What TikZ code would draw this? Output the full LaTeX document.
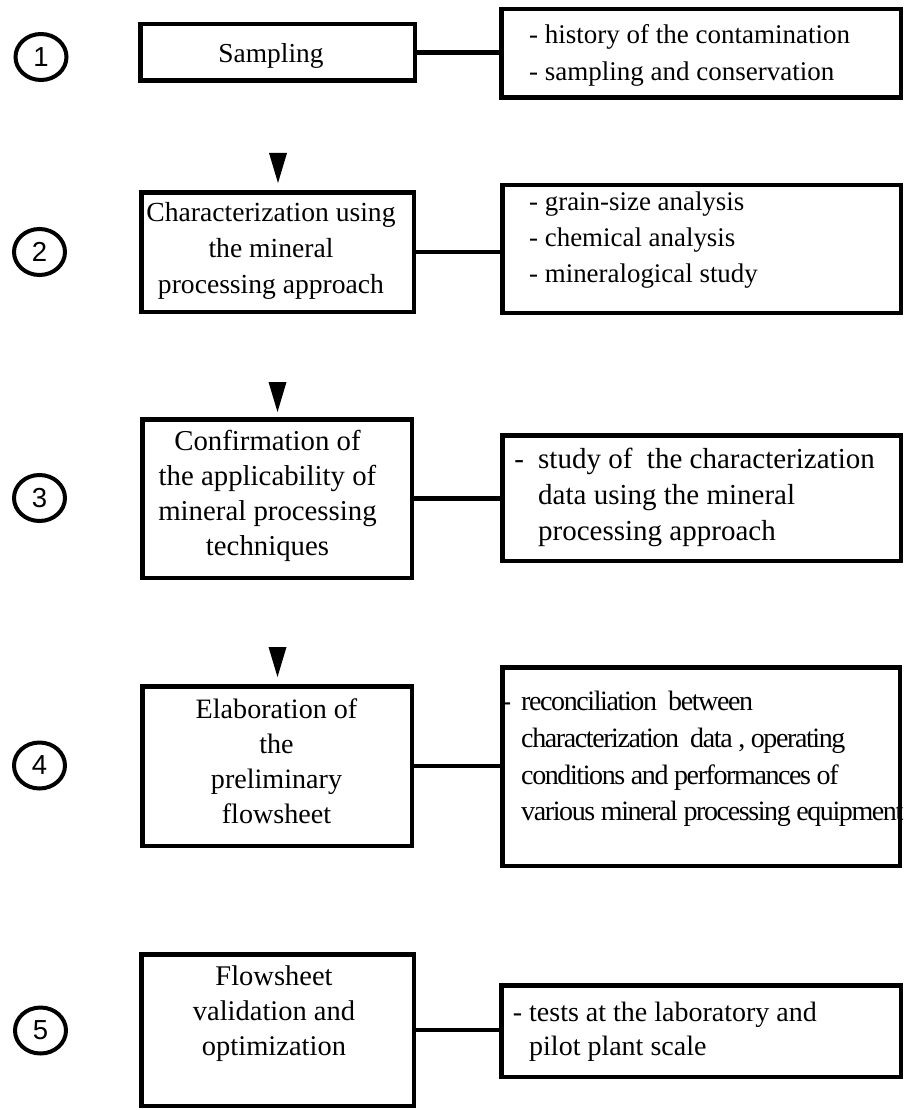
\documentclass[tikz,border=0pt]{standalone}
\usepackage{fontspec}
\setmainfont{Liberation Serif}
\newfontfamily\digitfont{Liberation Sans}
\newfontfamily\tightserif{Liberation Serif}[LetterSpace=-5]
\usetikzlibrary{shapes.geometric,calc}
\newcommand\tsz[2]{\fontsize{#1}{#2}\selectfont}

\tikzset{
  stepbox/.style={draw, rectangle, line width=4.5pt, inner sep=0pt},
  stepnum/.style={draw, ellipse, line width=4pt, inner sep=0pt,
    minimum width=51pt, minimum height=46pt,
    font=\digitfont\tsz{27.5}{30}},
  link/.style={draw, line width=4.5pt},
  headfill/.style={fill=black},
  ctext/.style={align=center, inner sep=0pt, anchor=north},
  ltext/.style={align=left, inner sep=0pt, anchor=north west}
}

\begin{document}
\begin{tikzpicture}[x=1pt,y=-1pt]
  \path[fill=white, use as bounding box] (0,0) rectangle (904,1110);

  % step numbers
  \node[stepnum] (n1) at (41,57)      {1};
  \node[stepnum] (n2) at (39.5,252)   {2};
  \node[stepnum] (n3) at (39.5,498)   {3};
  \node[stepnum] (n4) at (39.5,765.5) {4};
  \node[stepnum] (n5) at (40.5,1030.5){5};

  % main steps
  \node[stepbox, minimum width=274.5pt, minimum height=56.5pt]  (b1) at (277.5,52.5) {};
  \node[stepbox, minimum width=272.5pt, minimum height=119.5pt] (b2) at (277.5,252)  {};
  \node[stepbox, minimum width=269.5pt, minimum height=158.5pt] (b3) at (277,498.5)  {};
  \node[stepbox, minimum width=269.5pt, minimum height=159.5pt] (b4) at (277,766)    {};
  \node[stepbox, minimum width=272.5pt, minimum height=151.5pt] (b5) at (277.5,1030) {};

  % detail boxes
  \node[stepbox, minimum width=399.5pt, minimum height=88.5pt]  (r1) at (701,53.5)   {};
  \node[stepbox, minimum width=398.5pt, minimum height=127.5pt] (r2) at (701.5,249)  {};
  \node[stepbox, minimum width=398.5pt, minimum height=125.5pt] (r3) at (701.5,498)  {};
  \node[stepbox, minimum width=397.5pt, minimum height=198.5pt] (r4) at (701,766.5)  {};
  \node[stepbox, minimum width=399.5pt, minimum height=91.5pt]  (r5) at (701,1031)   {};

  % step labels
  \node[ctext, font=\tsz{27.4}{35}] (t1) at (271,43.4) {Sampling};
  \node[ctext, font=\tsz{27.6}{36}] (t2) at (271,202.2)
    {Characterization using\\the mineral\\processing approach};
  \node[ctext, font=\tsz{28.8}{35}] (t3) at (267.5,430.4)
    {Confirmation of\\the applicability of\\mineral processing\\techniques};
  \node[ctext, font=\tsz{28.1}{35}] (t4) at (276.5,698.9)
    {Elaboration of\\the\\preliminary\\flowsheet};
  \node[ctext, font=\tsz{28.5}{35}] (t5) at (274,965.6)
    {Flowsheet\\validation and\\optimization};

  % detail texts
  \node[ltext, font=\tsz{27}{37}] (s1) at (529,24.6)
    {- history of the contamination\\- sampling and conservation};
  \node[ltext, font=\tsz{26.9}{36}] (s2) at (529,191.7)
    {- grain-size analysis\\- chemical analysis\\- mineralogical study};
  \node[ltext, font=\tsz{29}{36}] (s3) at (538,448.3)
    {\llap{-\hspace{14.3pt}}study of~ the characterization\\data using the mineral\\processing approach};
  \node[ltext, font=\tightserif\tsz{28}{36.7}] (s4) at (521,691)
    {\llap{-\hspace{10pt}}reconciliation~ between\\characterization~ data , operating\\conditions and performances of\\various mineral processing equipment};
  \node[ltext, font=\tsz{28}{34}] (s5) at (529,1002)
    {\llap{- }tests at the laboratory and\\pilot plant scale};

  % links from each step to its details
  \foreach \i in {1,...,5}
    \draw[link] (b\i.east) -- (b\i.east -| r\i.west);

  % arrowheads above the following steps
  \foreach \i/\g in {2/7,3/5,4/7}
    \fill[headfill] ($(b\i.north)+(0.5,-\g)$) -- ++(-9,-30) -- ++(18,0) -- cycle;
\end{tikzpicture}
\end{document}
